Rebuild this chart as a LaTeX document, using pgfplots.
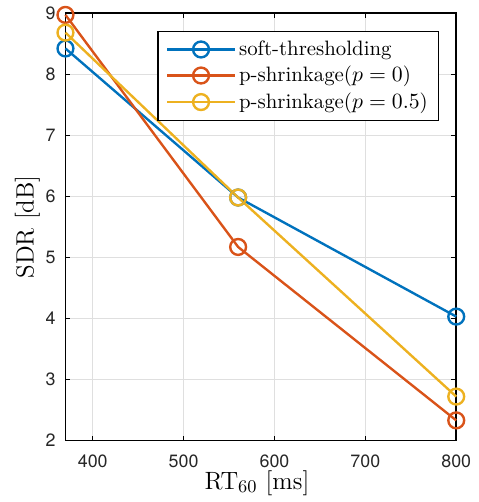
\documentclass[border=0pt]{standalone}
\usepackage{fontspec}
\usepackage{pgfplots}
\pgfplotsset{compat=1.18}
\newfontfamily\heros{TeX Gyre Heros}
\definecolor{mblue}{rgb}{0,0.447,0.741}
\definecolor{morange}{rgb}{0.85,0.325,0.098}
\definecolor{myellow}{rgb}{0.929,0.694,0.125}
\begin{document}
\begin{tikzpicture}
\begin{axis}[
  scale only axis,
  width=197pt,
  height=215.5pt,
  xmin=370, xmax=800,
  ymin=2, ymax=9,
  xtick={400,500,600,700,800},
  ytick={2,3,4,5,6,7,8,9},
  grid=major,
  major grid style={gray!25, line width=0.5pt},
  tick align=inside,
  major tick length=2.5pt,
  tick style={black, line width=0.6pt},
  axis line style={black, line width=0.8pt},
  /pgf/number format/assume math mode=true,
  /pgf/number format/1000 sep={},
  tick label style={font=\heros\fontsize{9}{11}\selectfont, text=black!85},
  xticklabel style={anchor=base, yshift=-13.5pt},
  yticklabel style={xshift=-1.5pt},
  label style={font=\fontsize{12.6}{15}\selectfont},
  xlabel={RT$_{60}$ [ms]},
  ylabel={SDR [dB]},
  xlabel style={at={(axis description cs:0.49,-0.1137)}, anchor=base},
  ylabel style={at={(axis description cs:-0.0977,0.5)}, anchor=center},
  clip=false,
  legend style={at={(0.957,0.958)}, anchor=north east, draw=black, line width=0.7pt,
    font=\fontsize{10.5}{12.6}\selectfont, inner xsep=4pt, inner ysep=2.5pt,
    nodes={inner xsep=1.5pt, inner ysep=2pt}},
  legend cell align=left,
  legend image code/.code={
    \draw[#1, line width=1.2pt] (0cm,0cm) -- (1.2cm,0cm);
    \draw[#1, line width=1.2pt, mark repeat=1] plot coordinates {(0.6cm,0cm)};
  },
  every axis plot/.append style={line width=1.2pt, mark=o, mark size=4pt, mark options={solid}},
]
\addplot[mblue] coordinates {(370,8.42) (560,5.98) (800,4.03)};
\addlegendentry{soft-thresholding}
\addplot[morange] coordinates {(370,8.97) (560,5.17) (800,2.33)};
\addlegendentry{p-shrinkage($p=0$)}
\addplot[myellow] coordinates {(370,8.68) (560,5.98) (800,2.72)};
\addlegendentry{p-shrinkage($p=0.5$)}
\path (rel axis cs:-0.1675,-0.1369) rectangle (rel axis cs:1.0558,1.0278);
\end{axis}
\end{tikzpicture}
\end{document}
